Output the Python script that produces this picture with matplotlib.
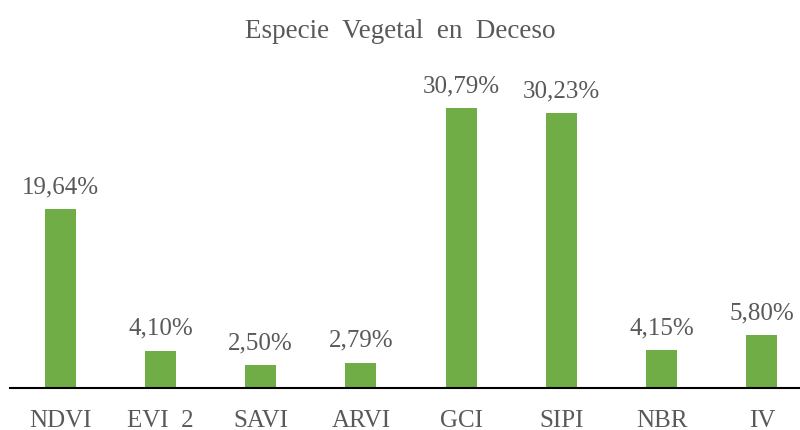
import matplotlib.pyplot as plt

# Datos
indices = ['NDVI', 'EVI  2', 'SAVI', 'ARVI', 'GCI', 'SIPI', 'NBR', 'IV']
porcentajes = [19.64, 4.10, 2.50, 2.79, 30.79, 30.23, 4.15, 5.80]
etiquetas = ['19,64%', '4,10%', '2,50%', '2,79%', '30,79%', '30,23%', '4,15%', '5,80%']

plt.rcParams['font.family'] = ['Liberation Serif', 'DejaVu Serif']
gris = '#595959'

fig = plt.figure(figsize=(8, 4.31), dpi=100)
ax = fig.add_axes([10 / 800, (431 - 389) / 431, 790 / 800, 329 / 431])

x = range(len(indices))
barras = ax.bar(x, porcentajes, width=0.31, color='#70ad47')

for b, txt in zip(barras, etiquetas):
    ax.annotate(txt, (b.get_x() + b.get_width() / 2, b.get_height()),
                xytext=(0, 8.5), textcoords='offset points',
                ha='center', va='bottom', fontsize=18, color=gris)

ax.set_xlim(-0.5, 7.38)
ax.set_ylim(0, 36.15)
ax.set_xticks(list(x))
ax.set_xticklabels(indices, fontsize=18, color=gris)
ax.tick_params(axis='x', length=0, pad=15)
ax.set_yticks([])
for lado in ['top', 'right', 'left']:
    ax.spines[lado].set_visible(False)
ax.spines['bottom'].set_linewidth(1.5)
ax.spines['bottom'].set_color('black')

fig.text(0.5, 1 - 31 / 431, 'Especie  Vegetal  en  Deceso', ha='center', va='center',
         fontsize=19.5, color=gris)

fig.savefig('out.png', dpi=100)
